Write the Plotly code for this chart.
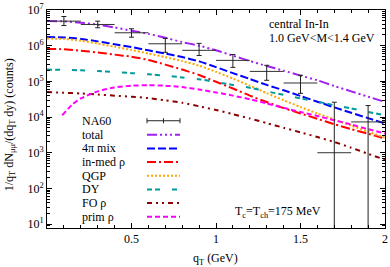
import plotly.graph_objects as go

# ---------------- data ----------------
q = [0.0, 0.1, 0.2, 0.3, 0.4, 0.5, 0.6, 0.7, 0.8, 0.9, 1.0,
     1.1, 1.2, 1.3, 1.4, 1.5, 1.6, 1.7, 1.8, 1.9, 2.0]

total = [4.90e6, 4.79e6, 4.42e6, 3.89e6, 3.24e6, 2.63e6, 2.14e6, 1.66e6, 1.26e6, 1.00e6, 7.41e5,
         5.25e5, 3.72e5, 2.69e5, 2.00e5, 1.45e5, 1.07e5, 7.41e4, 5.25e4, 3.72e4, 2.63e4]
mix4pi = [1.74e6, 1.70e6, 1.55e6, 1.32e6, 1.10e6, 9.12e5, 7.41e5, 6.03e5, 4.79e5, 3.63e5, 2.51e5,
          1.70e5, 1.17e5, 7.94e4, 5.62e4, 3.89e4, 2.69e4, 1.86e4, 1.32e4, 9.33e3, 6.61e3]
inmed_rho = [8.13e5, 7.94e5, 7.24e5, 6.46e5, 5.62e5, 4.90e5, 3.98e5, 2.95e5, 2.14e5, 1.51e5, 9.77e4,
             6.31e4, 3.98e4, 2.63e4, 1.78e4, 1.26e4, 8.91e3, 6.31e3, 4.57e3, 3.39e3, 2.51e3]
qgp = [1.58e6, 1.55e6, 1.38e6, 1.15e6, 9.33e5, 7.59e5, 6.03e5, 4.79e5, 3.72e5, 2.75e5, 1.86e5,
       1.20e5, 7.59e4, 4.68e4, 2.95e4, 1.91e4, 1.26e4, 8.51e3, 5.75e3, 3.89e3, 2.63e3]
dy = [2.14e5, 2.09e5, 2.04e5, 1.95e5, 1.82e5, 1.70e5, 1.58e5, 1.45e5, 1.29e5, 1.15e5, 9.55e4,
      7.94e4, 6.61e4, 5.25e4, 4.17e4, 3.31e4, 2.69e4, 2.14e4, 1.74e4, 1.38e4, 1.12e4]
fo_rho = [5.01e4, 4.79e4, 4.57e4, 4.27e4, 3.98e4, 3.72e4, 3.39e4, 2.95e4, 2.51e4, 2.00e4, 1.58e4,
          1.20e4, 9.12e3, 6.76e3, 5.01e3, 3.72e3, 2.75e3, 2.00e3, 1.38e3, 933, 631]

q_prim = [0.09, 0.15, 0.2, 0.3, 0.4, 0.5, 0.6, 0.7, 0.8, 0.9, 1.0,
          1.1, 1.2, 1.3, 1.4, 1.5, 1.6, 1.7, 1.8, 1.9, 2.0]
prim_rho = [1.12e4, 2.24e4, 3.31e4, 5.25e4, 6.76e4, 7.59e4, 7.76e4, 7.59e4, 6.92e4, 5.89e4, 4.90e4,
            3.98e4, 3.16e4, 2.40e4, 1.82e4, 1.38e4, 1.07e4, 8.13e3, 6.17e3, 4.57e3, 3.47e3]

na60_q = [0.1, 0.3, 0.5, 0.7, 0.9, 1.1, 1.3, 1.5, 1.7, 1.9]
na60_y = [4.87e6, 3.93e6, 2.30e6, 1.13e6, 7.4e5, 3.87e5, 1.9e5, 9.0e4, 1.0e3, 7.3e3]
na60_err_plus = [1.7e6, 9.4e5, 6.8e5, 4.7e5, 4.2e5, 1.8e5, 9.2e4, 5.8e4, 2.5e4, 1.37e4]
na60_err_minus = [1.2e6, 7.5e5, 5.7e5, 4.8e5, 2.1e5, 1.4e5, 8.3e4, 4.4e4, 999, 7299]
na60_dq = [0.1] * 10

x_ticks = [0.5, 1, 1.5, 2]
x_tick_labels = ["0.5", "1", "1.5", "2"]
y_ticks = [1e1, 1e2, 1e3, 1e4, 1e5, 1e6, 1e7]
y_tick_labels = ["10<sup>1</sup>", "10<sup>2</sup>", "10<sup>3</sup>", "10<sup>4</sup>",
                 "10<sup>5</sup>", "10<sup>6</sup>", "10<sup>7</sup>"]

FONT = "Liberation Serif, Times New Roman, serif"

series = [
    ("total", q, total, "#a020f0", "10px,3px,2px,3px,2px,3px,2px,3px"),
    ("4π mix", q, mix4pi, "#0000ff", "8px,3px"),
    ("in-med ρ", q, inmed_rho, "#ff0000", "9px,3px,2px,3px"),
    ("QGP", q, qgp, "#ffa500", "2px,2px"),
    ("DY", q, dy, "#009a9a", "5px,3px,5px,12px"),
    ("FO ρ", q, fo_rho, "#8b0000", "5px,4px,2px,4px,2px,4px"),
    ("prim ρ", q_prim, prim_rho, "#ff00ff", "5px,3px"),
]

fig = go.Figure()
for name, xs, ys, col, dash in series:
    fig.add_trace(go.Scatter(x=xs, y=ys, mode="lines", name=name,
                             line=dict(color=col, width=2, dash=dash, shape="spline", smoothing=0.6),
                             showlegend=False))

fig.add_trace(go.Scatter(
    x=na60_q, y=na60_y, mode="markers", name="NA60", showlegend=False,
    marker=dict(size=1, color="#222"),
    error_x=dict(type="data", array=na60_dq, color="#333", thickness=1, width=0),
    error_y=dict(type="data", symmetric=False, array=na60_err_plus,
                 arrayminus=na60_err_minus, color="#222", thickness=1, width=2.5),
))

# manual legend (text on the left, sample on the right)
X0, X1 = 47, 385
Y0, Y1 = 228, 9.5
def px(xp):
    return (xp - X0) / (X1 - X0)
def py(yp):
    return (Y0 - yp) / (Y0 - Y1)

shapes = []
annotations = []
leg_rows = [("NA60", 120.5)] + [(s[0], 134.5 + 13.7 * i) for i, s in enumerate(series)]
for i, (label, yrow) in enumerate(leg_rows):
    annotations.append(dict(x=px(80), y=py(yrow), xref="paper", yref="paper", text=label,
                            showarrow=False, xanchor="left", yanchor="middle",
                            font=dict(family=FONT, size=12, color="black")))
    if i == 0:
        shapes.append(dict(type="line", xref="paper", yref="paper", x0=px(147), x1=px(180),
                           y0=py(yrow), y1=py(yrow), line=dict(color="#222", width=1)))
        for xx in (147, 163.5, 180):
            h = 2.5
            shapes.append(dict(type="line", xref="paper", yref="paper", x0=px(xx), x1=px(xx),
                               y0=py(yrow - h), y1=py(yrow + h), line=dict(color="#222", width=1)))
    else:
        _, _, _, col, dash = series[i - 1]
        shapes.append(dict(type="line", xref="paper", yref="paper", x0=px(147), x1=px(180),
                           y0=py(yrow), y1=py(yrow), line=dict(color=col, width=2, dash=dash)))

annotations += [
    dict(x=px(267), y=py(24), xref="paper", yref="paper", text="central In-In",
         showarrow=False, xanchor="left", yanchor="middle", font=dict(family=FONT, size=12)),
    dict(x=px(267), y=py(38), xref="paper", yref="paper", text="1.0 GeV&lt;M&lt;1.4 GeV",
         showarrow=False, xanchor="left", yanchor="middle", font=dict(family=FONT, size=12)),
    dict(x=px(233), y=py(212), xref="paper", yref="paper",
         text="T<sub>c</sub>=T<sub>ch</sub>=175 MeV",
         showarrow=False, xanchor="left", yanchor="middle", font=dict(family=FONT, size=12)),
    dict(x=px(215), y=py(259), xref="paper", yref="paper", text="q<sub>T</sub> (GeV)",
         showarrow=False, xanchor="center", yanchor="middle", font=dict(family=FONT, size=12)),
    dict(x=px(10), y=py(125), xref="paper", yref="paper", textangle=-90,
         text="1/q<sub>T</sub> dN<sub>μμ</sub>/(dq<sub>T</sub> dy) (counts)",
         showarrow=False, xanchor="center", yanchor="middle", font=dict(family=FONT, size=12)),
]

fig.update_layout(
    width=390, height=267,
    margin=dict(l=X0, r=390 - X1, t=Y1, b=267 - Y0, autoexpand=False),
    paper_bgcolor="white", plot_bgcolor="white",
    font=dict(family=FONT, size=12, color="black"),
    showlegend=False,
    shapes=shapes, annotations=annotations,
)
fig.update_xaxes(range=[0, 2], showgrid=False, zeroline=False, automargin=False,
                 showline=True, linecolor="black", linewidth=1, mirror="allticks",
                 ticks="inside", ticklen=5, tickcolor="black",
                 tickvals=x_ticks, ticktext=x_tick_labels,
                 minor=dict(ticks="inside", ticklen=3, dtick=0.1, tickcolor="black", showgrid=False))
fig.update_yaxes(type="log", range=[0.89, 7], showgrid=False, zeroline=False, automargin=False,
                 showline=True, linecolor="black", linewidth=1, mirror="allticks",
                 ticks="inside", ticklen=5, tickcolor="black",
                 tickvals=y_ticks, ticktext=y_tick_labels,
                 minor=dict(ticks="inside", ticklen=3, dtick="D1", tickcolor="black", showgrid=False))

fig.write_html("out.html", config={"displayModeBar": False},
               post_script="document.body.style.margin='0';document.body.style.padding='0';")
